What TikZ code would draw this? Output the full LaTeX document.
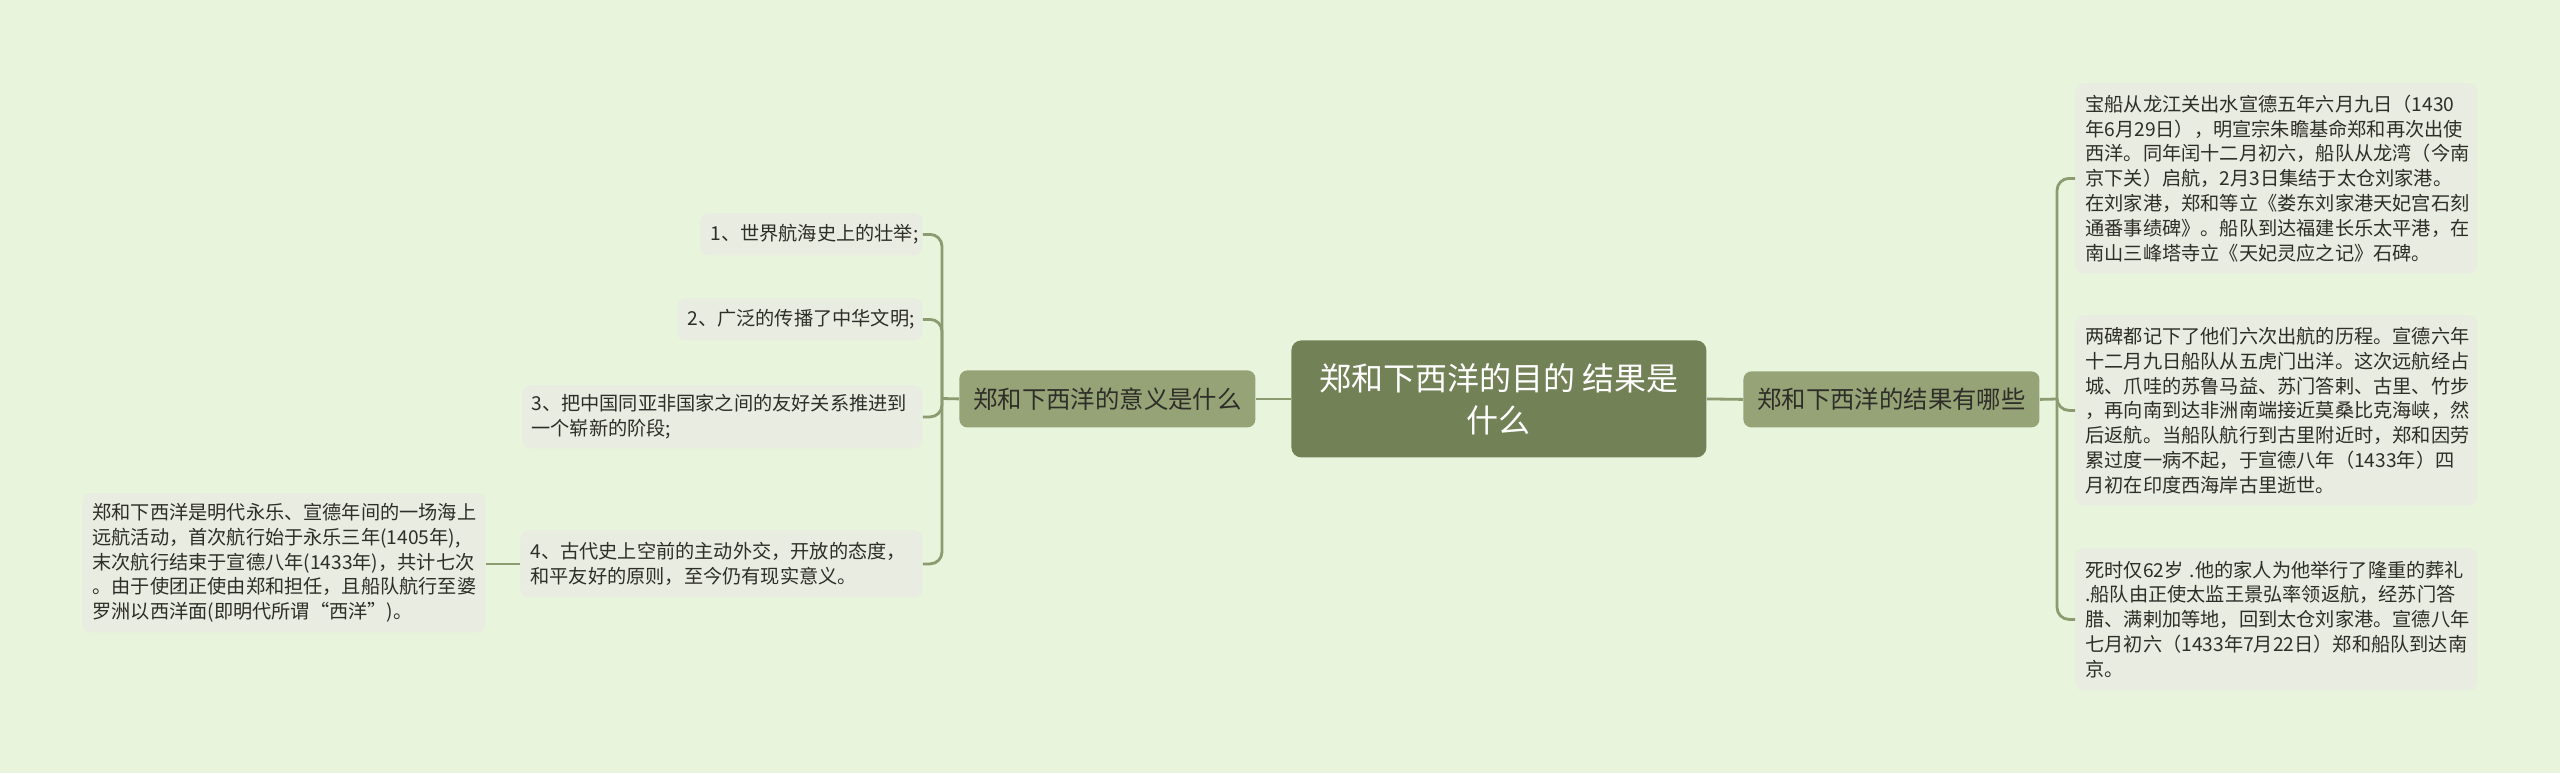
\documentclass[tikz,border=0pt]{standalone}
\usepackage{fontspec}
\setmainfont{Noto Sans CJK SC}
\definecolor{bgc}{HTML}{E8F4DC}
\definecolor{leafc}{HTML}{E9ECE1}
\definecolor{linec}{HTML}{8E9B70}
\definecolor{subc}{HTML}{96A377}
\definecolor{mainc}{HTML}{738156}
\definecolor{txtc}{HTML}{2E2E28}
\newcommand\zhLeaf{\fontsize{9.6pt}{12.4pt}\selectfont}
\newcommand\zhSub{\fontsize{12.2pt}{15pt}\selectfont}
\newcommand\zhMain{\fontsize{16pt}{21pt}\selectfont}
\begin{document}
\begin{tikzpicture}[x=0.5pt,y=-0.5pt,
  leaf/.style={fill=leafc, rounded corners=4pt, inner xsep=5pt, inner ysep=0pt,
    align=left, font=\zhLeaf, text=txtc, anchor=north west},
  subnode/.style={fill=subc, rounded corners=4pt, inner sep=0pt, align=center,
    font=\zhSub, text=txtc, anchor=north west},
  mainnode/.style={fill=mainc, rounded corners=5pt, inner sep=0pt, align=center,
    font=\zhMain, text=white, anchor=north west},
  conn/.style={draw=linec, line width=1.4pt},
  bconn/.style={conn, rounded corners=6pt}]
\fill[bgc] (0,0) rectangle (2560,773);
\useasboundingbox (0,0) rectangle (2560,773);

% central and sub nodes
\node[mainnode, minimum width=207.5pt, minimum height=58.5pt] (c) at (1291,340)
  {郑和下西洋的目的 结果是\\什么};
\node[subnode, minimum width=148pt, minimum height=28.5pt] (ls) at (959,370)
  {郑和下西洋的意义是什么};
\node[subnode, minimum width=148pt, minimum height=28pt] (rs) at (1743,371)
  {郑和下西洋的结果有哪些};

% right leaves
\node[leaf, text width=191pt, minimum height=95pt] (r1) at (2075,83)
  {宝船从龙江关出水宣德五年六月九日（1430\\
   年6月29日），明宣宗朱瞻基命郑和再次出使\\
   西洋。同年闰十二月初六，船队从龙湾（今南\\
   京下关）启航，2月3日集结于太仓刘家港。\\
   在刘家港，郑和等立《娄东刘家港天妃宫石刻\\
   通番事绩碑》。船队到达福建长乐太平港，在\\
   南山三峰塔寺立《天妃灵应之记》石碑。};
\node[leaf, text width=191pt, minimum height=95pt] (r2) at (2075,315)
  {两碑都记下了他们六次出航的历程。宣德六年\\
   十二月九日船队从五虎门出洋。这次远航经占\\
   城、爪哇的苏鲁马益、苏门答剌、古里、竹步\\
   ，再向南到达非洲南端接近莫桑比克海峡，然\\
   后返航。当船队航行到古里附近时，郑和因劳\\
   累过度一病不起，于宣德八年（1433年）四\\
   月初在印度西海岸古里逝世。};
\node[leaf, text width=191pt, minimum height=71pt] (r3) at (2075,548)
  {死时仅62岁 .他的家人为他举行了隆重的葬礼\\
   .船队由正使太监王景弘率领返航，经苏门答\\
   腊、满剌加等地，回到太仓刘家港。宣德八年\\
   七月初六（1433年7月22日）郑和船队到达南\\
   京。};

% left leaves
\node[leaf, align=center, text width=101pt, minimum height=21pt] (i1) at (700,213)
  {1、世界航海史上的壮举;};
\node[leaf, align=center, text width=112.5pt, minimum height=21pt] (i2) at (677,298)
  {2、广泛的传播了中华文明;};
\node[leaf, inner xsep=4.5pt, text width=191pt, minimum height=31.5pt] (i3) at (522,385)
  {3、把中国同亚非国家之间的友好关系推进到\\一个崭新的阶段;};
\node[leaf, text width=191pt, minimum height=33.5pt] (i4) at (520,530)
  {4、古代史上空前的主动外交，开放的态度，\\和平友好的原则，至今仍有现实意义。};
\node[leaf, text width=191.5pt, minimum height=69.5pt] (ll) at (82,493)
  {郑和下西洋是明代永乐、宣德年间的一场海上\\
   远航活动，首次航行始于永乐三年(1405年),\\
   末次航行结束于宣德八年(1433年)，共计七次\\
   。由于使团正使由郑和担任，且船队航行至婆\\
   罗洲以西洋面(即明代所谓“西洋”)。};

% connectors
\coordinate (lj) at (942,398.5);
\coordinate (rj) at (2057,399);
\draw[conn] (c.west) -- (ls.east);
\draw[conn] (c.east) -- (rs.west);
\draw[conn] (ls.west) -- (lj);
\draw[conn] (rs.east) -- (rj);
\draw[bconn] (lj) |- (i1.east);
\draw[bconn] (lj) |- (i2.east);
\draw[bconn] (lj) |- (i3.east);
\draw[bconn] (lj) |- (i4.east);
\draw[bconn] (rj) |- (r1.west);
\draw[bconn] (rj) |- (r2.west);
\draw[bconn] (rj) |- (r3.west);
\draw[conn] (i4.west) -- (i4.west -| ll.east);
\end{tikzpicture}
\end{document}
